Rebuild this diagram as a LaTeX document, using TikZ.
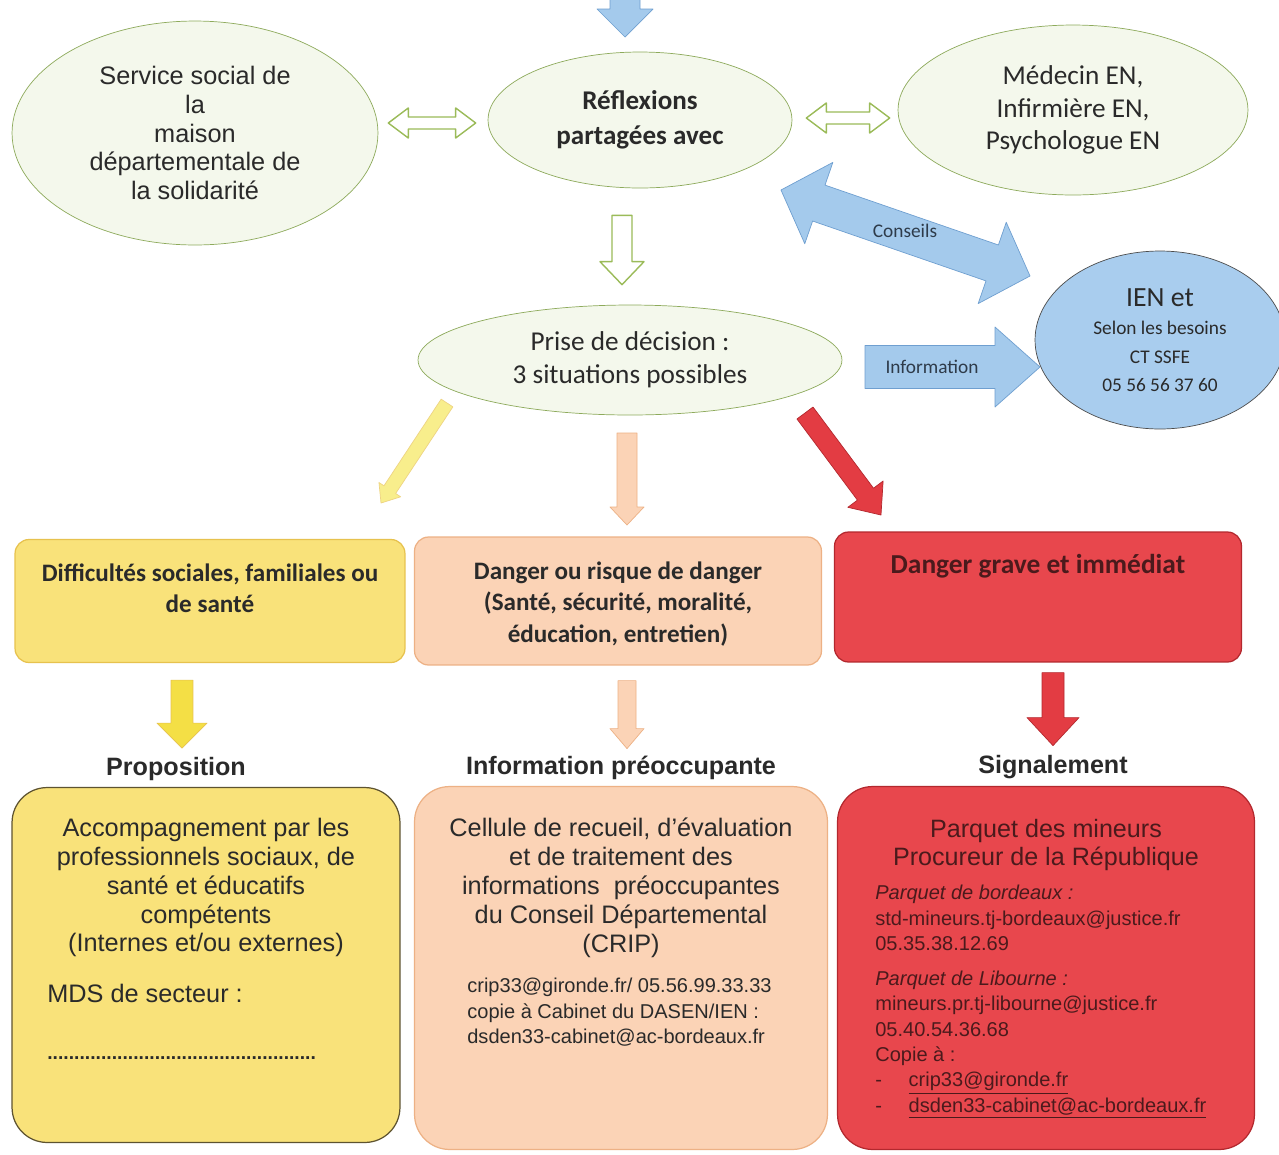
\documentclass[tikz,border=0pt]{standalone}
\usepackage{fontspec}
\setmainfont{Liberation Sans}
\newfontfamily\calibri{Carlito}
\usepackage{xcolor}
\usetikzlibrary{shapes,arrows,calc,positioning}

\definecolor{txt}{HTML}{2A2A2A}
\definecolor{ellfill}{HTML}{F4F8EC}
\definecolor{elldraw}{HTML}{8DAA5B}
\definecolor{greenarr}{HTML}{9BBB59}
\definecolor{bluefill}{HTML}{A4CAEC}
\definecolor{bluedraw}{HTML}{6F9FD0}
\definecolor{bluetxt}{HTML}{2E3B4A}
\definecolor{circfill}{HTML}{A9CDEE}
\definecolor{yelbox}{HTML}{F9E27A}
\definecolor{yeldraw}{HTML}{E7C24E}
\definecolor{yeldark}{HTML}{5E5330}
\definecolor{yelarr}{HTML}{F4DF45}
\definecolor{yellight}{HTML}{F8EE8C}
\definecolor{orabox}{HTML}{FBD3B6}
\definecolor{oradraw}{HTML}{EDB185}
\definecolor{redbox}{HTML}{E8474D}
\definecolor{reddraw}{HTML}{B3282E}
\definecolor{redarr}{HTML}{E33C43}
\definecolor{redtxt}{HTML}{4B1A1C}

% block arrows: style, tail, tip, half shaft, half head, head length
\newcommand\onearrow[6]{%
  \coordinate (hb) at ($(#3)!#6!(#2)$);
  \draw[#1] ($(#2)!#4!90:(#3)$) -- ($(hb)!#4!-90:(#2)$) -- ($(hb)!#5!-90:(#2)$) -- (#3)
    -- ($(hb)!#5!90:(#2)$) -- ($(hb)!#4!90:(#2)$) -- ($(#2)!#4!-90:(#3)$) -- cycle;}
\newcommand\twoarrow[6]{%
  \coordinate (ha) at ($(#2)!#6!(#3)$);
  \coordinate (hb) at ($(#3)!#6!(#2)$);
  \draw[#1] (#2) -- ($(ha)!#5!90:(#3)$) -- ($(ha)!#4!90:(#3)$) -- ($(hb)!#4!-90:(#2)$)
    -- ($(hb)!#5!-90:(#2)$) -- (#3) -- ($(hb)!#5!90:(#2)$) -- ($(hb)!#4!90:(#2)$)
    -- ($(ha)!#4!-90:(#3)$) -- ($(ha)!#5!-90:(#3)$) -- cycle;}

\begin{document}
\begin{tikzpicture}
  [x=0.02cm, y=-0.02cm, line join=round,
    every node/.style={text=txt},
    bubble/.style={ellipse, draw=elldraw, fill=ellfill, inner sep=0pt, align=center},
    box/.style={rounded corners=8pt, draw, line width=0.7pt},
    bigbox/.style={rounded corners=20pt, draw, line width=0.7pt},
    arial/.style={font=\fontsize{14.4}{16.4}\selectfont},
    cal/.style={font=\calibri\fontsize{15.5}{18.7}\selectfont},
    calb/.style={font=\calibri\bfseries\fontsize{14.3}{17.6}\selectfont, align=center, inner sep=0pt},
    head/.style={font=\bfseries\fontsize{14.3}{16}\selectfont},
    small/.style={font=\fontsize{11.4}{14.5}\selectfont, align=left, inner sep=0pt},
    greenout/.style={draw=greenarr, fill=white, line width=0.8pt}]
  \clip (0,0) rectangle (1279,1154);
  \fill[white] (0,0) rectangle (1279,1154);

  % top row
  \node[bubble, arial, minimum width=7.32cm, minimum height=4.48cm] (mds) at (195,133)
    {Service social de\\la\\maison\\départementale de\\la solidarité};
  \node[bubble, font=\calibri\bfseries\fontsize{15.4}{19.8}\selectfont,
    minimum width=6.08cm, minimum height=2.72cm] (reflex) at (640,120) {Réflexions\\partagées avec};
  \node[bubble, cal, minimum width=7cm, minimum height=3.4cm] (medecin) at (1073,110)
    {Médecin EN,\\Infirmière EN,\\Psychologue EN};
  \node[bubble, cal, minimum width=8.48cm, minimum height=2.2cm] (decision) at (630,360)
    {Prise de décision :\\3 situations possibles};
  \node[ellipse, draw=gray!60!black, fill=circfill, inner sep=0pt, align=center,
    minimum width=5cm, minimum height=3.56cm, font=\calibri\fontsize{11}{16.2}\selectfont]
    (ien) at (1160,340) {{\fontsize{15.8}{17}\selectfont IEN et}\\Selon les besoins\\CT SSFE\\05 56 56 37 60};

  \coordinate (bluein) at (625,-20);
  \coordinate (bluetip) at (625,37);
  \onearrow{draw=bluedraw, fill=bluefill}{bluein}{bluetip}{0.3cm}{0.56cm}{0.56cm}
  \coordinate (l1) at ($(mds.east)+(10,-10)$);
  \coordinate (l2) at ($(reflex.west)+(-12,3)$);
  \twoarrow{greenout}{l1}{l2}{0.12cm}{0.3cm}{0.4cm}
  \coordinate (r1) at ($(reflex.east)+(14,-2)$);
  \coordinate (r2) at ($(medecin.west)+(-8,8)$);
  \twoarrow{greenout}{r1}{r2}{0.12cm}{0.3cm}{0.4cm}
  \coordinate (g1) at ($(reflex.south)+(-18,27)$);
  \coordinate (g2) at ($(decision.north)+(-8,-20)$);
  \onearrow{greenout}{g1}{g2}{0.2cm}{0.44cm}{0.46cm}

  \coordinate (c1) at (781,190);
  \coordinate (c2) at (1030,276);
  \twoarrow{draw=bluedraw, fill=bluefill}{c1}{c2}{0.38cm}{0.86cm}{0.8cm}
  \node[font=\calibri\fontsize{11}{12}\selectfont, text=bluetxt] (conseils) at (905,231) {Conseils};
  \coordinate (i1) at (865,367);
  \coordinate (i2) at (1040,367);
  \onearrow{draw=bluedraw, fill=bluefill}{i1}{i2}{0.43cm}{0.8cm}{0.9cm}
  \node[font=\calibri\fontsize{11}{12}\selectfont, text=bluetxt] (info) at (932,367) {Information};

  % three situations
  \coordinate (y1) at (447,403);
  \coordinate (y2) at (381,503);
  \onearrow{draw=yeldraw!70, fill=yellight}{y1}{y2}{0.14cm}{0.26cm}{0.32cm}
  \coordinate (o1) at (627,433);
  \coordinate (o2) at (627,525);
  \onearrow{draw=oradraw, fill=orabox}{o1}{o2}{0.2cm}{0.34cm}{0.36cm}
  \coordinate (d1) at (805,413);
  \coordinate (d2) at (881,515);
  \onearrow{draw=reddraw, fill=redarr}{d1}{d2}{0.2cm}{0.44cm}{0.52cm}

  \node[box, draw=yeldraw, fill=yelbox, minimum width=7.8cm, minimum height=2.46cm] (diff) at (210,601) {};
  \node[calb, below=0.5cm of diff.north] (difftxt) {Difficultés sociales, familiales ou\\de santé};
  \node[box, draw=oradraw, fill=orabox, minimum width=8.14cm, minimum height=2.56cm] (danger) at (618,601) {};
  \node[calb, font=\calibri\bfseries\fontsize{14.3}{17.9}\selectfont, below=0.5cm of danger.north]
    (dangertxt) {Danger ou risque de danger\\(Santé, sécurité, moralité,\\éducation, entretien)};
  \node[box, draw=reddraw, fill=redbox, minimum width=8.14cm, minimum height=2.6cm] (grave) at (1038,597) {};
  \node[calb, font=\calibri\bfseries\fontsize{15.6}{18}\selectfont, text=redtxt, below=0.46cm of grave.north]
    (gravetxt) {Danger grave et immédiat};

  \coordinate (ya) at ($(diff.south)+(-28,17)$);
  \coordinate (yb) at ($(diff.south)+(-28,85)$);
  \onearrow{draw=yeldraw, fill=yelarr}{ya}{yb}{0.22cm}{0.5cm}{0.5cm}
  \coordinate (oa) at ($(danger.south)+(9,15)$);
  \coordinate (ob) at ($(danger.south)+(9,83)$);
  \onearrow{draw=oradraw, fill=orabox}{oa}{ob}{0.18cm}{0.34cm}{0.4cm}
  \coordinate (ra) at ($(grave.south)+(15,10)$);
  \coordinate (rb) at ($(grave.south)+(15,83)$);
  \onearrow{draw=reddraw, fill=redarr}{ra}{rb}{0.22cm}{0.52cm}{0.56cm}

  \node[head] (prop) at (176,769) {Proposition};
  \node[head] (infop) at (621,768) {Information préoccupante};
  \node[head] (signal) at (1053,767) {Signalement};

  % bottom boxes
  \node[bigbox, draw=yeldark, fill=yelbox, minimum width=7.76cm, minimum height=7.1cm] (acc) at (206,965) {};
  \node[arial, align=center, inner sep=0pt, below=0.62cm of acc.north] (acctxt)
    {Accompagnement par les\\professionnels sociaux, de\\santé et éducatifs\\compétents\\(Internes et/ou externes)};
  \node[arial, anchor=west, inner sep=0pt] (mdstxt) at (47,993) {MDS de secteur :};
  \node[anchor=west, inner sep=0pt, font=\fontsize{11}{12}\bfseries\selectfont] (dots) at (47,1058)
    {..................................................};

  \node[bigbox, draw=oradraw, fill=orabox, minimum width=8.26cm, minimum height=7.26cm] (crip) at (621,968) {};
  \node[arial, align=center, inner sep=0pt, below=0.64cm of crip.north] (criptxt)
    {Cellule de recueil, d’évaluation\\et de traitement des\\informations~ préoccupantes\\du Conseil Départemental\\(CRIP)};
  \node[small, anchor=north west] (cripmail) at (467,978)
    {crip33@gironde.fr/ 05.56.99.33.33\\copie à Cabinet du DASEN/IEN :\\dsden33-cabinet@ac-bordeaux.fr};

  \node[bigbox, draw=reddraw, fill=redbox, minimum width=8.34cm, minimum height=7.26cm] (parquet) at (1046,968) {};
  \node[align=center, inner sep=0pt, font=\fontsize{14.3}{15.9}\selectfont, text=redtxt,
    below=0.66cm of parquet.north] (parqtxt) {Parquet des mineurs\\Procureur de la République};
  \node[small, anchor=north west, text=redtxt] (parqmail) at (875,885)
    {\textit{Parquet de bordeaux :}\\std-mineurs.tj-bordeaux@justice.fr\\05.35.38.12.69\\[5pt]
     \textit{Parquet de Libourne :}\\mineurs.pr.tj-libourne@justice.fr\\05.40.54.36.68\\Copie à :\\
     \makebox[19pt][l]{-}\underline{crip33@gironde.fr}\\
     \makebox[19pt][l]{-}\underline{dsden33-cabinet@ac-bordeaux.fr}};
\end{tikzpicture}
\end{document}
